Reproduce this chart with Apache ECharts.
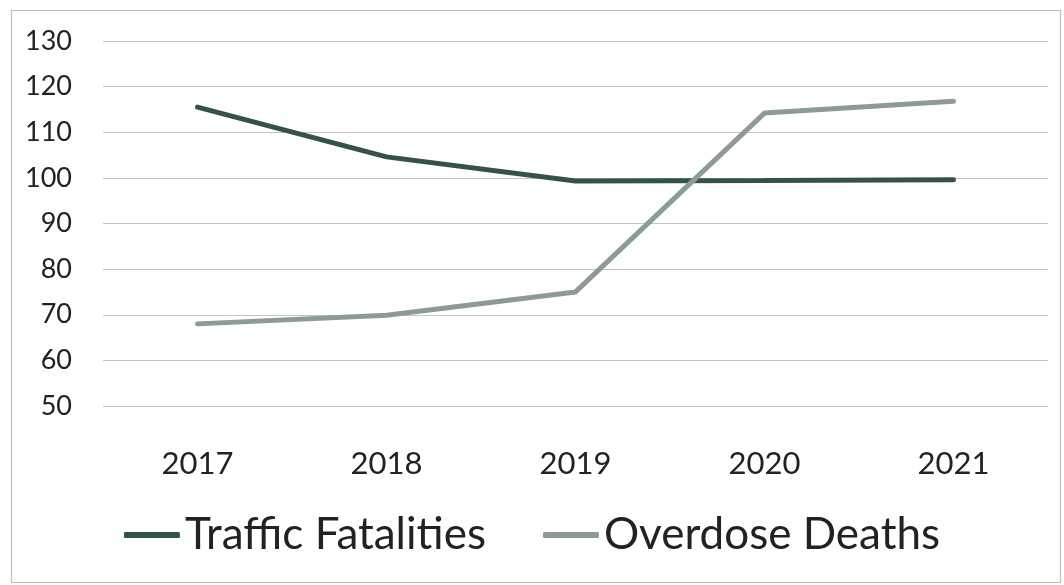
<!DOCTYPE html>
<html>
<head>
<meta charset="utf-8">
<script src="https://cdn.jsdelivr.net/npm/echarts@6/dist/echarts.min.js"></script>
<style>
html,body{margin:0;padding:0;background:#fff;}
#chart{width:1064px;height:585px;}
</style>
</head>
<body>
<div id="chart"></div>
<script>
const years = ['2017', '2018', '2019', '2020', '2021'];
const trafficFatalities = [115.5, 104.6, 99.3, 99.4, 99.6];
const overdoseDeaths = [68.0, 69.9, 75.0, 114.2, 116.8];
const yTicks = { min: 50, max: 130, interval: 10 };

const chart = echarts.init(document.getElementById('chart'));
const font = 'Lato, "Open Sans", sans-serif';
chart.setOption({
  backgroundColor: '#ffffff',
  animation: false,
  graphic: [{
    type: 'rect', left: 9, top: 8,
    shape: { width: 1049, height: 572 },
    style: { fill: 'none', stroke: '#bdbdbd', lineWidth: 1.2 }
  }],
  grid: { left: 103, right: 16, top: 41, bottom: 179 },
  legend: {
    top: 508,
    left: 'center',
    itemGap: 57,
    itemWidth: 56,
    itemHeight: 6,
    icon: 'roundRect',
    textStyle: { fontFamily: font, fontSize: 44, color: '#222' },
    data: ['Traffic Fatalities', 'Overdose Deaths']
  },
  xAxis: {
    type: 'category',
    data: years,
    boundaryGap: true,
    axisLine: { show: false },
    axisTick: { show: false },
    axisLabel: { margin: 42, fontFamily: font, fontSize: 31, color: '#222' }
  },
  yAxis: {
    type: 'value',
    min: yTicks.min, max: yTicks.max, interval: yTicks.interval,
    axisLine: { show: false },
    axisTick: { show: false },
    axisLabel: { margin: 31, fontFamily: font, fontSize: 27, color: '#222' },
    splitLine: { lineStyle: { color: '#c4c4c4', width: 1.2 } }
  },
  series: [
    {
      name: 'Traffic Fatalities', type: 'line', data: trafficFatalities,
      showSymbol: false, symbol: 'none',
      lineStyle: { color: '#345246', width: 5, cap: 'round' },
      itemStyle: { color: '#345246' }
    },
    {
      name: 'Overdose Deaths', type: 'line', data: overdoseDeaths,
      showSymbol: false, symbol: 'none',
      lineStyle: { color: '#8c9c95', width: 5, cap: 'round' },
      itemStyle: { color: '#8c9c95' }
    }
  ]
});
</script>
</body>
</html>
